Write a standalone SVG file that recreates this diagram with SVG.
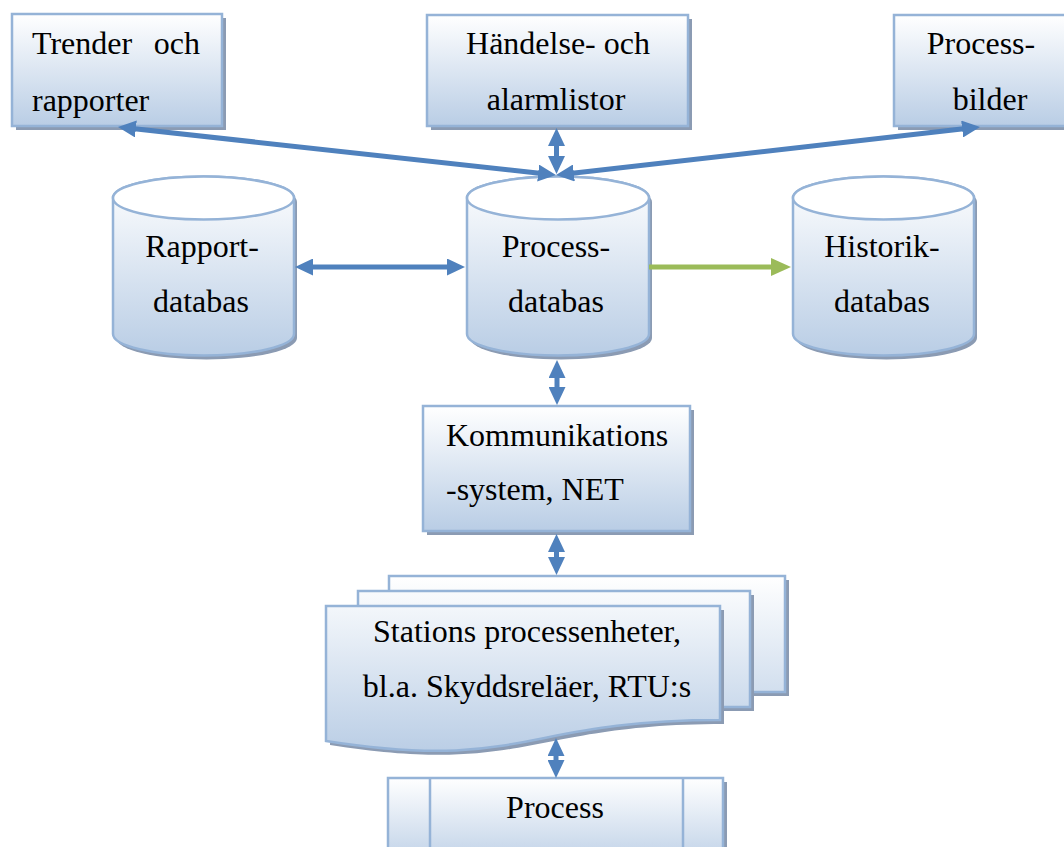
<svg xmlns="http://www.w3.org/2000/svg" width="1064" height="847" viewBox="0 0 1064 847">
<style>
.shape{stroke:#95b3d7;stroke-width:2.5;fill:url(#g)}
.shadow{fill:#8b9bb3}
.t{font-size:32px;fill:#000}
.c{text-anchor:middle}
.arr{stroke:#4f81bd;stroke-width:5;fill:none;marker-start:url(#ah);marker-end:url(#ah)}
.garr{stroke:#9bbb59;stroke-width:5;fill:none;marker-end:url(#gh)}
</style>
<defs>
<linearGradient id="g" x1="0" y1="0" x2="0" y2="1"><stop offset="0" stop-color="#ffffff"/><stop offset="1" stop-color="#b9cde5"/></linearGradient>
<linearGradient id="gd" gradientUnits="userSpaceOnUse" x1="0" y1="576" x2="0" y2="755"><stop offset="0" stop-color="#ffffff"/><stop offset="1" stop-color="#b9cde5"/></linearGradient>
<linearGradient id="gp" gradientUnits="userSpaceOnUse" x1="0" y1="778" x2="0" y2="870"><stop offset="0" stop-color="#ffffff"/><stop offset="1" stop-color="#b9cde5"/></linearGradient>
<marker id="ah" markerUnits="userSpaceOnUse" markerWidth="18" markerHeight="17" refX="6" refY="8.5" orient="auto-start-reverse"><path d="M0,0 L18,8.5 L0,17 z" fill="#4f81bd"/></marker>
<marker id="gh" markerUnits="userSpaceOnUse" markerWidth="20" markerHeight="18" refX="8" refY="9" orient="auto"><path d="M0,0 L20,9 L0,18 z" fill="#9bbb59"/></marker>
</defs>
<rect width="1064" height="847" fill="#ffffff"/>

<g id="trender">
<rect class="shadow" x="16" y="18" width="210" height="112"/>
<rect class="shape" x="12" y="14" width="210" height="112"/>
<text class="t" font-family="'Liberation Serif', 'DejaVu Serif', serif"><tspan x="32" y="54">Trender</tspan><tspan x="200" y="54" text-anchor="end">och</tspan><tspan x="32" y="111">rapporter</tspan></text>
</g>

<g id="handelse">
<rect class="shadow" x="431" y="19" width="261" height="111"/>
<rect class="shape" x="427" y="15" width="261" height="111"/>
<text class="t c" font-family="'Liberation Serif', 'DejaVu Serif', serif"><tspan x="558" y="54">Händelse- och</tspan><tspan x="556" y="110">alarmlistor</tspan></text>
</g>

<g id="processbilder">
<rect class="shadow" x="898" y="19" width="190" height="111"/>
<rect class="shape" x="894" y="15" width="190" height="111"/>
<text class="t c" font-family="'Liberation Serif', 'DejaVu Serif', serif"><tspan x="981" y="54">Process-</tspan><tspan x="990" y="110">bilder</tspan></text>
</g>

<g id="rapportdb">
<path class="shadow" d="M116,202 A90.5,21.5 0 0 1 297,202 L297,338 A90.5,21.5 0 0 1 116,338 Z"/>
<path class="shape" d="M113,198 A90.5,21.5 0 0 1 294,198 L294,334 A90.5,21.5 0 0 1 113,334 Z"/>
<ellipse cx="203.5" cy="198" rx="90.5" ry="21.5" fill="#ffffff" stroke="#95b3d7" stroke-width="2.5"/>
<text class="t c" font-family="'Liberation Serif', 'DejaVu Serif', serif"><tspan x="202" y="257">Rapport-</tspan><tspan x="201" y="312">databas</tspan></text>
</g>

<g id="processdb">
<path class="shadow" d="M470,202 A91,21.5 0 0 1 652,202 L652,338 A91,21.5 0 0 1 470,338 Z"/>
<path class="shape" d="M467,198 A91,21.5 0 0 1 649,198 L649,334 A91,21.5 0 0 1 467,334 Z"/>
<ellipse cx="558" cy="198" rx="91" ry="21.5" fill="#ffffff" stroke="#95b3d7" stroke-width="2.5"/>
<text class="t c" font-family="'Liberation Serif', 'DejaVu Serif', serif"><tspan x="556" y="257">Process-</tspan><tspan x="556" y="312">databas</tspan></text>
</g>

<g id="historikdb">
<path class="shadow" d="M796,202 A90.5,21.5 0 0 1 977,202 L977,338 A90.5,21.5 0 0 1 796,338 Z"/>
<path class="shape" d="M793,198 A90.5,21.5 0 0 1 974,198 L974,334 A90.5,21.5 0 0 1 793,334 Z"/>
<ellipse cx="883.5" cy="198" rx="90.5" ry="21.5" fill="#ffffff" stroke="#95b3d7" stroke-width="2.5"/>
<text class="t c" font-family="'Liberation Serif', 'DejaVu Serif', serif"><tspan x="882" y="257">Historik-</tspan><tspan x="882" y="312">databas</tspan></text>
</g>

<g id="kommunikation">
<rect class="shadow" x="427" y="410" width="267" height="125"/>
<rect class="shape" x="423" y="406" width="267" height="125"/>
<text class="t" font-family="'Liberation Serif', 'DejaVu Serif', serif"><tspan x="446" y="446">Kommunikations</tspan><tspan x="446" y="500">-system, NET</tspan></text>
</g>

<g id="stationer">
<rect class="shadow" x="393" y="580" width="396" height="116"/>
<rect x="389" y="576" width="396" height="116" fill="url(#gd)" stroke="#95b3d7" stroke-width="2.5"/>
<rect class="shadow" x="362" y="595" width="392" height="116"/>
<rect x="358" y="591" width="392" height="116" fill="url(#gd)" stroke="#95b3d7" stroke-width="2.5"/>
<path class="shadow" d="M330,610 L724,610 L724,724 C527,724 527,776 330,745 Z"/>
<path d="M326,606 L720,606 L720,720 C523,720 523,772 326,741 Z" fill="url(#gd)" stroke="#95b3d7" stroke-width="2.5"/>
<text class="t c" font-family="'Liberation Serif', 'DejaVu Serif', serif"><tspan x="527" y="642">Stations processenheter,</tspan><tspan x="527" y="697">bl.a. Skyddsreläer, RTU:s</tspan></text>
</g>

<g id="process">
<rect class="shadow" x="392" y="782" width="335" height="100"/>
<rect x="388" y="778" width="335" height="100" fill="url(#gp)" stroke="#95b3d7" stroke-width="2.5"/>
<line x1="430" y1="778" x2="430" y2="878" stroke="#95b3d7" stroke-width="2.5"/>
<line x1="683" y1="778" x2="683" y2="878" stroke="#95b3d7" stroke-width="2.5"/>
<text class="t c" font-family="'Liberation Serif', 'DejaVu Serif', serif" x="555" y="818">Process</text>
</g>

<g id="connectors">
<line class="arr" x1="129.9" y1="128.3" x2="544.1" y2="173.7"/>
<line class="arr" x1="567.9" y1="173.65" x2="968.1" y2="128.35"/>
<line class="arr" x1="556.5" y1="140" x2="556.5" y2="162"/>
<line class="arr" x1="307" y1="267" x2="453" y2="267"/>
<line class="garr" x1="649" y1="267" x2="779" y2="267"/>
<line class="arr" x1="557" y1="372" x2="557" y2="393"/>
<line class="arr" x1="556.5" y1="546" x2="556.5" y2="563"/>
<line class="arr" x1="556" y1="750" x2="556" y2="766"/>
</g>
</svg>
